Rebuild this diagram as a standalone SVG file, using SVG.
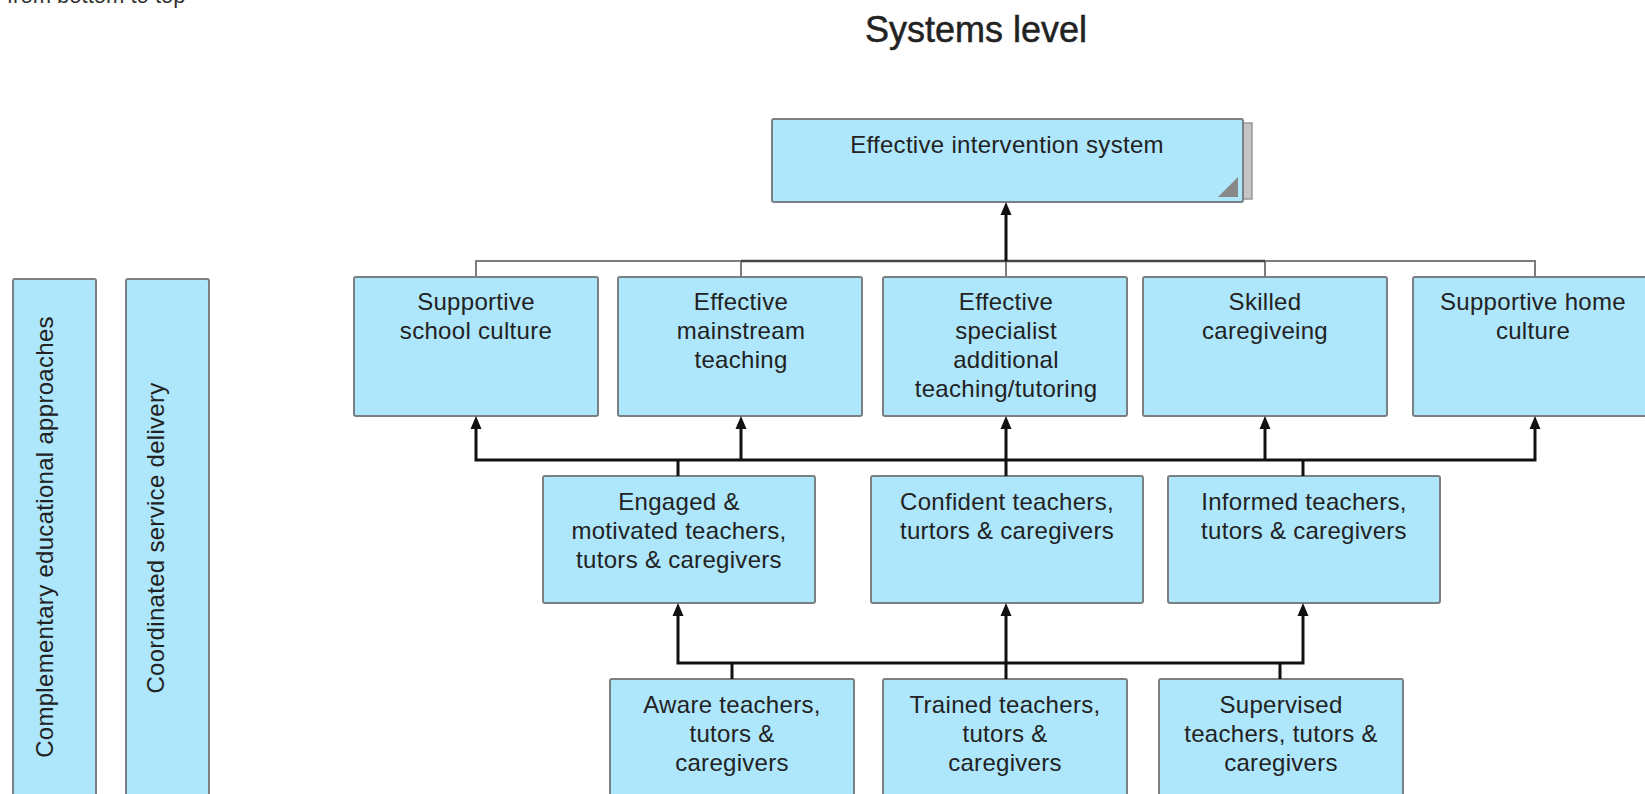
<svg xmlns="http://www.w3.org/2000/svg" width="1645" height="794" viewBox="0 0 1645 794">
<style>
.box{fill:#aee6fc;stroke:#7a7f82;stroke-width:2}
.t{font-family:"Liberation Sans",Arial,sans-serif;font-size:24px;fill:#222;text-anchor:middle;letter-spacing:0.3px}
.c{fill:none;stroke:#111;stroke-width:3}
.g{fill:none;stroke:#7c7c7c;stroke-width:2}
.d{fill:none;stroke:#444;stroke-width:2.5}
</style>
<defs>
<path id="ah" d="M0,0 L-5.5,13 L5.5,13 Z" fill="#111"/>
</defs>
<rect width="1645" height="794" fill="#fff"/>
<text x="7" y="3" style="font-family:'Liberation Sans',Arial,sans-serif;font-size:22px;fill:#333">from bottom to top</text>
<text x="976" y="42" style="font-family:'Liberation Sans',Arial,sans-serif;font-size:36px;fill:#222;stroke:#222;stroke-width:0.5;text-anchor:middle">Systems level</text>

<g id="bar-complementary">
<rect class="box" x="13" y="279" width="83" height="530" rx="2"/>
<text class="t" transform="translate(53,537) rotate(-90)" x="0" y="0">Complementary educational approaches</text>
</g>
<g id="bar-coordinated">
<rect class="box" x="126" y="279" width="83" height="530" rx="2"/>
<text class="t" transform="translate(164,538) rotate(-90)" x="0" y="0">Coordinated service delivery</text>
</g>

<g id="n-top">
<rect x="1230" y="123" width="22" height="76" fill="#c4c4c4" stroke="#999" stroke-width="1.5"/>
<rect class="box" x="772" y="119" width="471" height="83" rx="2"/>
<path d="M1218,197 L1238,197 L1238,177 Z" fill="#888"/>
<text class="t" x="1007" y="153">Effective intervention system</text>
</g>

<g id="n-school">
<rect class="box" x="354" y="277" width="244" height="139" rx="2"/>
<text class="t" x="476" y="310">Supportive</text>
<text class="t" x="476" y="339">school culture</text>
</g>
<g id="n-mainstream">
<rect class="box" x="618" y="277" width="244" height="139" rx="2"/>
<text class="t" x="741" y="310">Effective</text>
<text class="t" x="741" y="339">mainstream</text>
<text class="t" x="741" y="368">teaching</text>
</g>
<g id="n-specialist">
<rect class="box" x="883" y="277" width="244" height="139" rx="2"/>
<text class="t" x="1006" y="310">Effective</text>
<text class="t" x="1006" y="339">specialist</text>
<text class="t" x="1006" y="368">additional</text>
<text class="t" x="1006" y="397">teaching/tutoring</text>
</g>
<g id="n-skilled">
<rect class="box" x="1143" y="277" width="244" height="139" rx="2"/>
<text class="t" x="1265" y="310">Skilled</text>
<text class="t" x="1265" y="339">caregiveing</text>
</g>
<g id="n-home">
<rect class="box" x="1413" y="277" width="244" height="139" rx="2"/>
<text class="t" x="1533" y="310">Supportive home</text>
<text class="t" x="1533" y="339">culture</text>
</g>

<g id="n-engaged">
<rect class="box" x="543" y="476" width="272" height="127" rx="2"/>
<text class="t" x="679" y="510">Engaged &amp;</text>
<text class="t" x="679" y="539">motivated teachers,</text>
<text class="t" x="679" y="568">tutors &amp; caregivers</text>
</g>
<g id="n-confident">
<rect class="box" x="871" y="476" width="272" height="127" rx="2"/>
<text class="t" x="1007" y="510">Confident teachers,</text>
<text class="t" x="1007" y="539">turtors &amp; caregivers</text>
</g>
<g id="n-informed">
<rect class="box" x="1168" y="476" width="272" height="127" rx="2"/>
<text class="t" x="1304" y="510">Informed teachers,</text>
<text class="t" x="1304" y="539">tutors &amp; caregivers</text>
</g>

<g id="n-aware">
<rect class="box" x="610" y="679" width="244" height="140" rx="2"/>
<text class="t" x="732" y="713">Aware teachers,</text>
<text class="t" x="732" y="742">tutors &amp;</text>
<text class="t" x="732" y="771">caregivers</text>
</g>
<g id="n-trained">
<rect class="box" x="883" y="679" width="244" height="140" rx="2"/>
<text class="t" x="1005" y="713">Trained teachers,</text>
<text class="t" x="1005" y="742">tutors &amp;</text>
<text class="t" x="1005" y="771">caregivers</text>
</g>
<g id="n-supervised">
<rect class="box" x="1159" y="679" width="244" height="140" rx="2"/>
<text class="t" x="1281" y="713">Supervised</text>
<text class="t" x="1281" y="742">teachers, tutors &amp;</text>
<text class="t" x="1281" y="771">caregivers</text>
</g>

<g id="connectors">
<path class="g" d="M476,277 V261 H741 M1535,277 V261 H1265 M741,277 V261 M1006,277 V261 M1265,277 V261"/>
<path class="d" d="M741,261 H1265"/>
<path class="c" d="M1006,261 V212"/>
<use href="#ah" x="1006" y="202"/>

<path class="c" d="M476,426 V460 H1535 V426 M741,460 V426 M1006,476 V426 M1265,460 V426 M678,476 V460 M1303,476 V460"/>
<use href="#ah" x="476" y="416"/>
<use href="#ah" x="741" y="416"/>
<use href="#ah" x="1006" y="416"/>
<use href="#ah" x="1265" y="416"/>
<use href="#ah" x="1535" y="416"/>

<path class="c" d="M678,613 V663 H1303 V613 M1006,679 V613 M732,679 V663 M1280,679 V663"/>
<use href="#ah" x="678" y="603"/>
<use href="#ah" x="1006" y="603"/>
<use href="#ah" x="1303" y="603"/>
</g>
</svg>
